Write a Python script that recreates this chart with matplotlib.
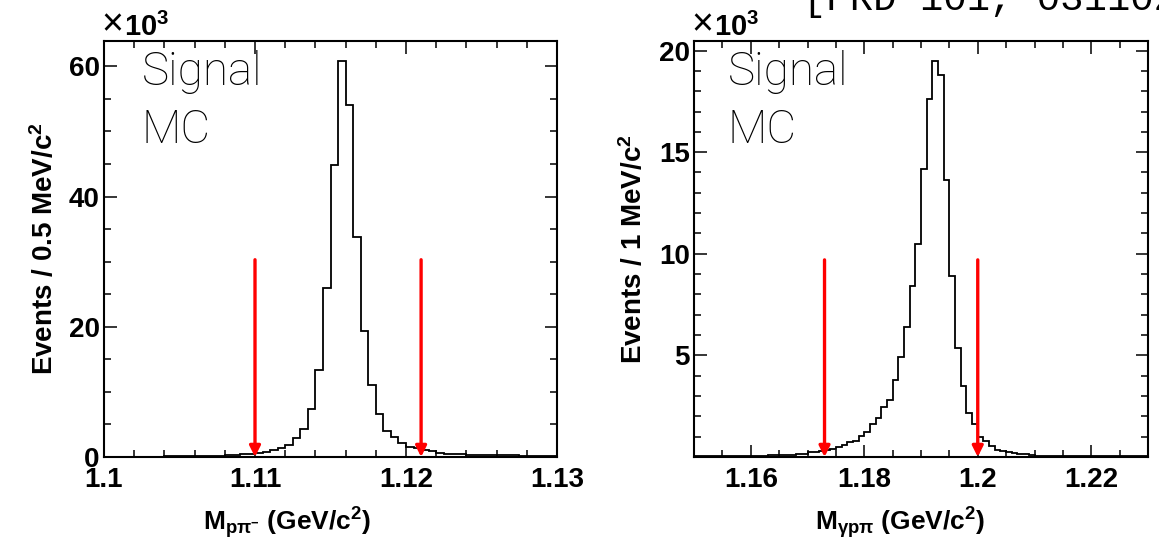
import numpy as np
import matplotlib
matplotlib.use("Agg")
import matplotlib.pyplot as plt
from matplotlib.ticker import MultipleLocator, FuncFormatter

plt.rcParams["font.family"] = ["Liberation Sans", "DejaVu Sans"]
plt.rcParams["font.weight"] = "bold"
plt.rcParams["axes.labelweight"] = "bold"
plt.rcParams["mathtext.fontset"] = "custom"
plt.rcParams["mathtext.rm"] = "Liberation Sans"
plt.rcParams["mathtext.bf"] = "Liberation Sans:bold"
plt.rcParams["mathtext.it"] = "Liberation Sans:italic"
plt.rcParams["mathtext.default"] = "bf"

# Lambda -> p pi-  (0.5 MeV bins, counts in units of 1e3)
LAM_RANGE = (1.10, 1.13)
LAM_COUNTS = [
    0.05, 0.05, 0.05, 0.05, 0.05, 0.05, 0.05, 0.05, 0.10, 0.10,
    0.10, 0.10, 0.15, 0.15, 0.15, 0.20, 0.25, 0.30, 0.45, 0.50,
    0.60, 0.77, 1.00, 1.45, 1.90, 2.90, 4.30, 7.30, 13.4, 26.0,
    44.8, 60.9, 54.0, 33.8, 19.3, 11.1, 6.60, 4.00, 3.00, 2.20,
    1.60, 1.35, 1.07, 0.90, 0.60, 0.50, 0.50, 0.50, 0.36, 0.36,
    0.34, 0.34, 0.25, 0.25, 0.25, 0.15, 0.15, 0.15, 0.15, 0.15,
]
LAM_CUTS = [1.110, 1.121]
LAM_ARROW_TOP = 30.3

# Sigma0 -> gamma p pi  (1 MeV bins, counts in units of 1e3)
SIG_RANGE = (1.15, 1.23)
SIG_COUNTS = [
    0.03, 0.03, 0.03, 0.03, 0.03, 0.03, 0.03, 0.03, 0.03, 0.03,
    0.05, 0.05, 0.05, 0.08, 0.08, 0.08, 0.10, 0.11, 0.13, 0.16,
    0.24, 0.25, 0.30, 0.34, 0.41, 0.49, 0.59, 0.75, 0.79, 1.03,
    1.25, 1.60, 1.90, 2.45, 2.80, 3.77, 4.90, 6.40, 8.40, 10.5,
    14.15, 17.6, 19.5, 18.8, 13.65, 8.93, 5.36, 3.50, 2.15, 1.63,
    1.00, 0.79, 0.54, 0.34, 0.30, 0.25, 0.20, 0.16, 0.13, 0.10,
    0.07, 0.07, 0.07, 0.05, 0.05, 0.05, 0.05, 0.03, 0.03, 0.03,
    0.03, 0.03, 0.03, 0.03, 0.03, 0.03, 0.03, 0.03, 0.03, 0.03,
]
SIG_CUTS = [1.173, 1.200]
SIG_ARROW_TOP = 9.7

W, H = 1159, 541
TAG_FONT = ["Roboto", "DejaVu Sans"]


def style_axes(ax, xmaj, xmin, ymaj, ymin, ylim, hide_zero=False):
    for s in ax.spines.values():
        s.set_linewidth(1.5)
    ax.xaxis.set_major_locator(MultipleLocator(xmaj))
    ax.xaxis.set_minor_locator(MultipleLocator(xmin))
    ax.yaxis.set_major_locator(MultipleLocator(ymaj))
    ax.yaxis.set_minor_locator(MultipleLocator(ymin))
    ax.xaxis.set_major_formatter(FuncFormatter(lambda v, p: f"{v:g}"))
    if hide_zero:
        ax.yaxis.set_major_formatter(
            FuncFormatter(lambda v, p: "" if abs(v) < 1e-9 else f"{v:g}"))
    else:
        ax.yaxis.set_major_formatter(FuncFormatter(lambda v, p: f"{v:g}"))
    ax.tick_params(which="both", direction="in", top=True, right=True, width=1.1)
    ax.tick_params(which="major", length=9)
    ax.tick_params(which="minor", length=5)
    ax.tick_params(axis="x", labelsize=20, pad=7)
    ax.tick_params(axis="y", labelsize=20, pad=3)
    ax.set_ylim(0, ylim)


def draw_panel(rect, rng, counts, cuts, arrow_top):
    ax = fig.add_axes(rect)
    edges = np.linspace(rng[0], rng[1], len(counts) + 1)
    ax.stairs(counts, edges, color="black", lw=1.3, baseline=None)
    for xc in cuts:
        ax.annotate("", xy=(xc, 0), xytext=(xc, arrow_top),
                    arrowprops=dict(arrowstyle="-|>", color="#ff0000", lw=2.4,
                                    mutation_scale=16, shrinkA=0, shrinkB=0),
                    zorder=5)
    ax.set_xlim(*rng)
    return ax


fig = plt.figure(figsize=(W / 100, H / 100), dpi=100)

axL = draw_panel([104 / W, 1 - 457 / H, 453 / W, 416 / H],
                 LAM_RANGE, LAM_COUNTS, LAM_CUTS, LAM_ARROW_TOP)
style_axes(axL, 0.01, 0.002, 20, 5, 63.9)

axR = draw_panel([694 / W, 1 - 457 / H, 454 / W, 416 / H],
                 SIG_RANGE, SIG_COUNTS, SIG_CUTS, SIG_ARROW_TOP)
style_axes(axR, 0.02, 0.005, 5, 1, 20.47, hide_zero=True)

# axis titles
axL.set_ylabel(r"Events / 0.5 MeV/c$^{2}$", fontsize=20, fontweight="bold")
axL.yaxis.set_label_coords((59 - 104) / 453, 0.5)
axR.set_ylabel(r"Events / 1 MeV/c$^{2}$", fontsize=20, fontweight="bold")
axR.yaxis.set_label_coords((648 - 694) / 454, 0.5)

fig.text(287 / W, 1 - 530 / H, r"M$_{p\pi^{-}}$ (GeV/c$^{2}$)",
         fontsize=19, ha="center", va="baseline")
fig.text(900 / W, 1 - 530 / H, r"M$_{\gamma p\pi}$ (GeV/c$^{2}$)",
         fontsize=19, ha="center", va="baseline")

# exponent markers above the frames: thin "x", bold power of ten
for x0 in (101, 691):
    fig.text(x0 / W, 1 - 35 / H, "\u00d7", fontsize=27, fontweight="normal",
             family="Liberation Sans", ha="left", va="baseline")
    fig.text((x0 + 23) / W, 1 - 36 / H, r"10$^{3}$",
             fontsize=21, ha="left", va="baseline")

# sample tag
for x0 in (142, 728):
    fig.text(x0 / W, 1 - 85 / H, "Signal", fontsize=33, family=TAG_FONT,
             fontweight="light", ha="left", va="baseline")
    fig.text(x0 / W, 1 - 143 / H, "MC", fontsize=33, family=TAG_FONT,
             fontweight="light", ha="left", va="baseline")

fig.text(803 / W, 1 - 10 / H, "[PRD 101, 031102", fontsize=28,
         family="Liberation Mono", fontweight="normal",
         ha="left", va="baseline")

fig.savefig("out.png", dpi=100, facecolor="white")
